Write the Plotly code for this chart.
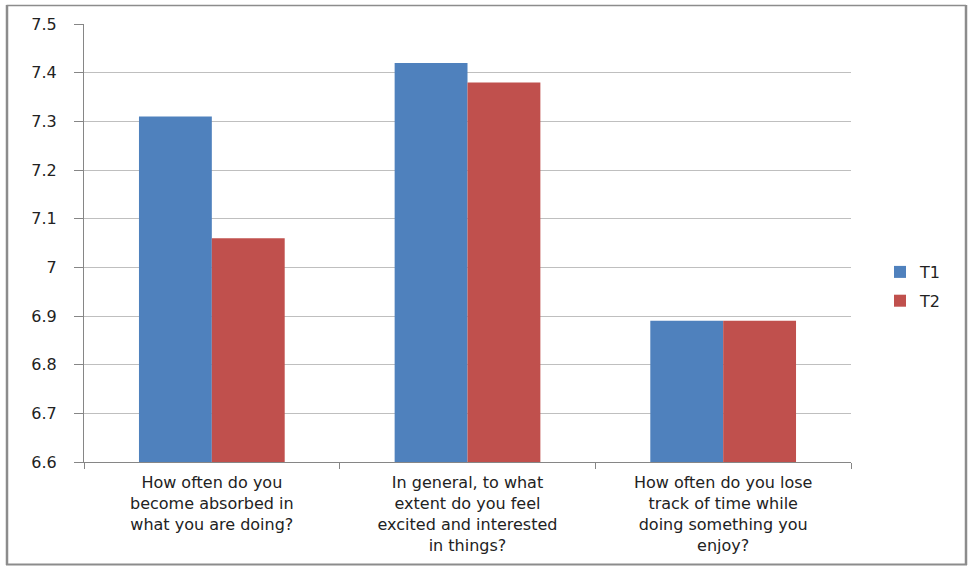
import plotly.graph_objects as go

# Survey questions (category axis) and mean scores at two time points
questions = [
    "How often do you<br>become absorbed in<br>what you are doing?",
    "In general, to what<br>extent do you feel<br>excited and interested<br>in things?",
    "How often do you lose<br>track of time while<br>doing something you<br>enjoy?",
]
t1_scores = [7.31, 7.42, 6.89]
t2_scores = [7.06, 7.38, 6.89]
y_ticks = [6.6, 6.7, 6.8, 6.9, 7.0, 7.1, 7.2, 7.3, 7.4, 7.5]
y_tick_text = ["6.6", "6.7", "6.8", "6.9", "7", "7.1", "7.2", "7.3", "7.4", "7.5"]

FONT = "'DejaVu Sans', Verdana, sans-serif"
W, H = 969, 566
L, R, T, B = 84, 118, 24, 104
PW, PH = W - L - R, H - T - B


def px_x(x):
    return (x - L) / PW


def px_y(y):
    return (H - B - y) / PH


fig = go.Figure()
fig.add_trace(go.Bar(name="T1", x=questions, y=t1_scores, marker_color="#4F81BD",
                     marker_line_width=0, legendgroup="a"))
fig.add_trace(go.Bar(name="T2", x=questions, y=t2_scores, marker_color="#C0504D",
                     marker_line_width=0, legendgroup="b"))

frame = "#8C8C8C"
fig.update_layout(
    width=W, height=H,
    margin=dict(l=L, r=R, t=T, b=B, autoexpand=False),
    paper_bgcolor="white", plot_bgcolor="white",
    barmode="group", bargap=0.43, bargroupgap=0,
    font=dict(family=FONT, size=16, color="#222222"),
    showlegend=True,
    legend=dict(
        x=px_x(880), xanchor="left",
        y=px_y(255), yanchor="top",
        font=dict(size=16, color="#222222", family=FONT),
        traceorder="grouped", tracegroupgap=5,
        bgcolor="rgba(0,0,0,0)",
    ),
    xaxis=dict(
        type="category",
        automargin=False,
        showline=True, linecolor="#868686", linewidth=1,
        ticks="outside", tickson="boundaries", ticklen=6, tickcolor="#868686",
        showgrid=False,
        tickfont=dict(size=16, family=FONT, color="#222222"),
        tickangle=0,
        ticklabelstandoff=6,
    ),
    yaxis=dict(
        range=[6.6, 7.5],
        automargin=False,
        tickvals=y_ticks, ticktext=y_tick_text,
        showline=True, linecolor="#868686", linewidth=1,
        ticks="outside", ticklen=9, tickcolor="#868686",
        showgrid=True, gridcolor="#BFBFBF", gridwidth=1,
        zeroline=False,
        tickfont=dict(size=16, family=FONT, color="#222222"),
        ticklabelstandoff=14,
    ),
    shapes=[
        # chart frame with heavier left, right and bottom edges
        dict(type="line", xref="paper", yref="paper",
             x0=px_x(6.5), x1=px_x(966), y0=px_y(5.5), y1=px_y(5.5),
             line=dict(color=frame, width=1.5)),
        dict(type="line", xref="paper", yref="paper",
             x0=px_x(7), x1=px_x(7), y0=px_y(5), y1=px_y(565),
             line=dict(color=frame, width=2.5)),
        dict(type="line", xref="paper", yref="paper",
             x0=px_x(966), x1=px_x(966), y0=px_y(5), y1=px_y(565),
             line=dict(color=frame, width=2.5)),
        dict(type="line", xref="paper", yref="paper",
             x0=px_x(6), x1=px_x(967), y0=px_y(564.5), y1=px_y(564.5),
             line=dict(color=frame, width=2)),
    ],
)

fig.write_html("out.html")
